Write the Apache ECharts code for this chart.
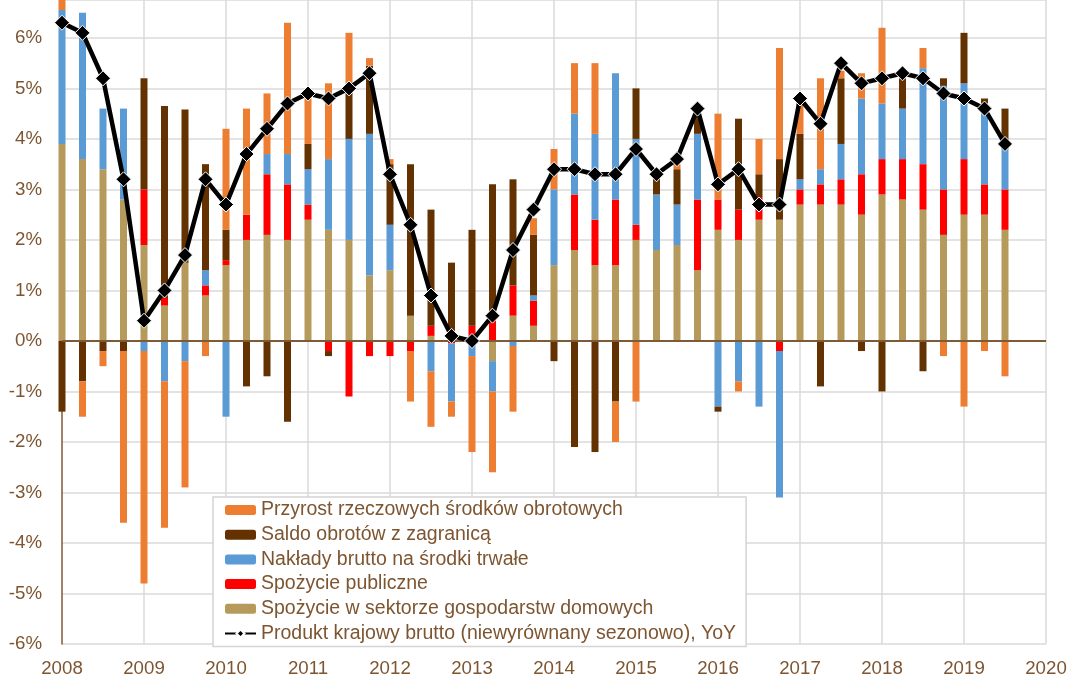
<!DOCTYPE html>
<html>
<head>
<meta charset="utf-8">
<script src="https://cdn.jsdelivr.net/npm/echarts@6/dist/echarts.min.js"></script>
<style>
html,body{margin:0;padding:0;background:#fff;}
#chart{width:1075px;height:678px;}
</style>
</head>
<body>
<div id="chart"></div>
<script>
// Quarters 2008Q1 .. 2019Q3
const quarters = [
 '2008Q1','2008Q2','2008Q3','2008Q4','2009Q1','2009Q2','2009Q3','2009Q4',
 '2010Q1','2010Q2','2010Q3','2010Q4','2011Q1','2011Q2','2011Q3','2011Q4',
 '2012Q1','2012Q2','2012Q3','2012Q4','2013Q1','2013Q2','2013Q3','2013Q4',
 '2014Q1','2014Q2','2014Q3','2014Q4','2015Q1','2015Q2','2015Q3','2015Q4',
 '2016Q1','2016Q2','2016Q3','2016Q4','2017Q1','2017Q2','2017Q3','2017Q4',
 '2018Q1','2018Q2','2018Q3','2018Q4','2019Q1','2019Q2','2019Q3'
];
// axis runs on to the start of 2020
const axisExtra = ['2019Q4','2020Q1'];

// Spożycie w sektorze gospodarstw domowych
const household = [3.9,3.6,3.4,2.8,1.9,0.7,1.55,0.9, 1.5,2.0,2.1,2.0,2.4,2.2,2.0,1.3,
 1.4,0.5,0.1,0.0,0.0,-0.4,0.5,0.3, 1.5,1.8,1.5,1.5,2.0,1.8,1.9,1.4,
 2.2,2.0,2.4,2.4,2.7,2.7,2.7,2.5, 2.9,2.8,2.6,2.1,2.5,2.5,2.2];
// Spożycie publiczne
const government = [0,0,0,0,1.1,0.15,0,0.2, 0.1,0.5,1.2,1.1,0.3,-0.2,-1.1,-0.3,
 -0.3,-0.2,0.2,-0.05,0.3,0.5,0.6,0.5, 0,1.1,0.9,1.3,0.3,0,0,1.4,
 0.6,0.6,0.45,-0.2,0.3,0.4,0.5,0.8, 0.7,0.8,0.9,0.9,1.1,0.6,0.8];
// Nakłady brutto na środki trwałe
const investment = [2.65,2.9,1.2,1.8,-0.2,-0.8,-0.4,0.3, -1.5,0,0.4,0.6,0.7,1.4,2.0,2.8,
 0.9,0,-0.6,-1.15,-0.3,-0.6,-0.1,0.1, 1.5,1.6,1.7,2.5,1.7,1.1,0.8,1.3,
 -1.3,-0.8,-1.3,-2.9,0.2,0.3,0.7,1.5, 1.1,1.0,1.9,2.05,1.5,1.6,0.8];
// Saldo obrotów z zagranicą
const netExports = [-1.4,-0.8,-0.2,-0.2,2.2,3.8,3.03,2.1, 0.6,-0.9,-0.7,-1.6,0.5,-0.1,1.0,1.35,
 1.2,3.0,2.3,1.55,1.9,2.6,2.1,1.2, -0.4,-2.1,-2.2,-1.2,1.0,0.4,0.7,0.4,
 -0.1,1.8,0.45,1.2,0.9,-0.9,1.3,-0.2, -1.0,0.6,-0.6,0.15,1.0,0.1,0.8];
// Przyrost rzeczowych środków obrotowych
const inventories = [0.2,-0.7,-0.3,-3.4,-4.6,-2.9,-2.5,-0.3, 2.0,2.1,1.2,2.6,0.95,1.5,1.1,0.15,
 0.1,-1.0,-1.1,-0.3,-1.9,-1.6,-1.3,0.33, 0.8,1.0,1.4,-0.8,-1.2,0,0.1,0,
 1.7,-0.2,0.7,2.2,0.65,1.8,0.15,0.5, 1.5,0,0.4,-0.3,-1.3,-0.2,-0.7];
// Produkt krajowy brutto (niewyrównany sezonowo), YoY
const gdp = [6.3,6.1,5.2,3.2,0.4,1.0,1.7,3.2, 2.7,3.7,4.2,4.7,4.9,4.8,5.0,5.3,
 3.3,2.3,0.9,0.1,0.0,0.5,1.8,2.6, 3.4,3.4,3.3,3.3,3.8,3.3,3.6,4.6,
 3.1,3.4,2.7,2.7,4.8,4.3,5.5,5.1, 5.2,5.3,5.2,4.9,4.8,4.6,3.9];

const names = {
  inv: 'Przyrost rzeczowych środków obrotowych',
  nx: 'Saldo obrotów z zagranicą',
  gfcf: 'Nakłady brutto na środki trwałe',
  gov: 'Spożycie publiczne',
  hh: 'Spożycie w sektorze gospodarstw domowych',
  gdp: 'Produkt krajowy brutto (niewyrównany sezonowo), YoY'
};

const axisCats = quarters.concat(axisExtra);
const isYearStart = i => axisCats[i].slice(4) === 'Q1';

const txt = '#7d5530';
const font = '"Liberation Sans", Arial, sans-serif';

function barSeries(name, arr, color, extra) {
  return Object.assign({
    name, type: 'bar', stack: 'c', barWidth: 7, clip: false,
    data: arr,
    itemStyle: { color },
    emphasis: { disabled: true }
  }, extra || {});
}

const chart = echarts.init(document.getElementById('chart'), null, { renderer: 'canvas' });
chart.setOption({
  animation: false,
  backgroundColor: '#ffffff',
  textStyle: { fontFamily: font },
  grid: { left: 62, right: 29, top: 0, bottom: 34, containLabel: false },
  xAxis: {
    type: 'category', data: axisCats, boundaryGap: false,
    axisLine: { show: false },
    axisTick: { show: false },
    axisLabel: { color: txt, fontSize: 18.7, fontFamily: font, margin: 15,
      interval: (i) => isYearStart(i),
      formatter: v => v.slice(0, 4) },
    splitLine: { show: true, interval: (i) => isYearStart(i) && i > 0,
      lineStyle: { color: '#dadada', width: 1.5 } }
  },
  yAxis: {
    type: 'value', min: -6, max: 6.75, interval: 1,
    axisLine: { show: true, onZero: false, lineStyle: { color: '#7f5a36', width: 1.5 } },
    axisTick: { show: false },
    axisLabel: { color: txt, fontSize: 18.7, fontFamily: font, margin: 20, showMaxLabel: false,
      formatter: v => (Math.abs(v - Math.round(v)) < 1e-6 ? Math.round(v) + '%' : '') },
    splitLine: { show: true, lineStyle: { color: '#dadada', width: 1.5 } }
  },
  legend: {
    orient: 'vertical', left: 213, top: 497,
    data: [names.inv, names.nx, names.gfcf, names.gov, names.hh, names.gdp],
    itemWidth: 31, itemHeight: 10, itemGap: 4.7,
    padding: [3, 10, 3, 11],
    backgroundColor: '#ffffff', borderColor: '#d4d4d4', borderWidth: 1.5, borderRadius: 0,
    textStyle: { color: txt, fontSize: 19.5, fontFamily: font, lineHeight: 20 },
    selectedMode: false
  },
  series: [
    barSeries(names.hh, household, '#b59a5b'),
    barSeries(names.gov, government, '#ff0000'),
    barSeries(names.gfcf, investment, '#5b9bd5'),
    barSeries(names.nx, netExports, '#633200'),
    barSeries(names.inv, inventories, '#ed7d31', {
      markLine: {
        silent: true, symbol: 'none', label: { show: false },
        lineStyle: { color: '#7f5a36', width: 2, type: 'solid' },
        data: [{ yAxis: 0 }]
      }
    }),
    {
      name: names.gdp, type: 'line', data: gdp,
      symbol: 'diamond', symbolSize: 15, showAllSymbol: true, clip: false,
      lineStyle: { color: '#000000', width: 4.5 },
      itemStyle: { color: '#000000', borderColor: '#ffffff', borderWidth: 1 },
      emphasis: { disabled: true },
      z: 10
    }
  ]
});
</script>
</body>
</html>
